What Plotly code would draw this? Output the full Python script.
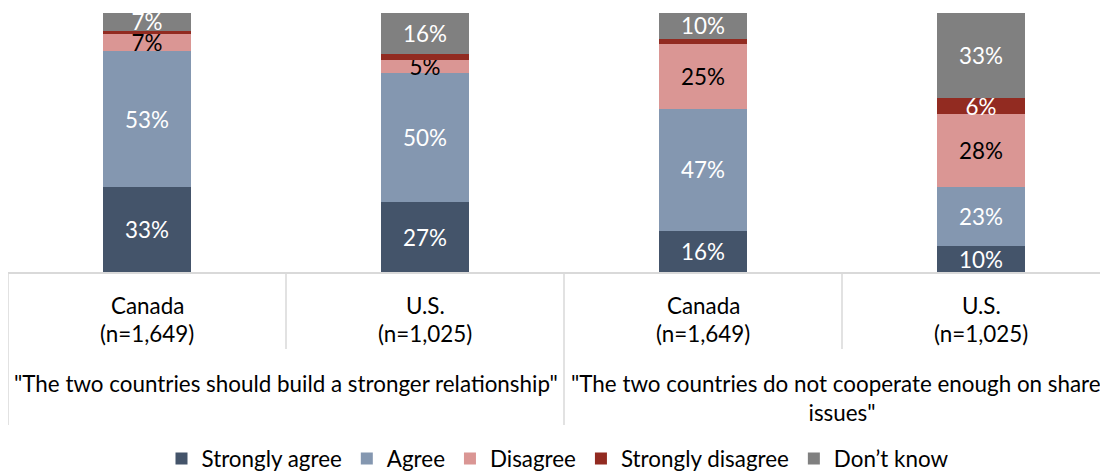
import plotly.graph_objects as go

# ---- data ----
countries = ["Canada", "U.S.", "Canada", "U.S."]
samples = ["(n=1,649)", "(n=1,025)", "(n=1,649)", "(n=1,025)"]
statements = ['"The two countries should build a stronger relationship"',
              '"The two countries do not cooperate enough on shared<br>issues"']
series_names = ["Strongly agree", "Agree", "Disagree", "Strongly disagree", "Don\u2019t know"]
strongly_agree = [33, 27, 16, 10]
agree = [53, 50, 47, 23]
disagree = [7, 5, 25, 28]
strongly_disagree = [1, 2, 2, 6]
dont_know = [7, 16, 10, 33]

colors = ["#44546A", "#8497B0", "#DA9694", "#922B21", "#808080"]
text_colors = ["white", "white", "black", "white", "white"]
FONT = "Lato"
FS = 22.4

# the page body has an 8px margin, so the figure is placed at (8, 8) on the page
PAGE_OFF = 8
W, H = 1100, 465
L, R, T, B = 0, 0, 5, 201
plot_top_page = PAGE_OFF + T
plot_bot_page = PAGE_OFF + H - B
plot_h = plot_bot_page - plot_top_page
slot_px = 278.0

x = list(range(len(countries)))
fig = go.Figure()
for name, vals, c, tc in zip(series_names,
                             [strongly_agree, agree, disagree, strongly_disagree, dont_know],
                             colors, text_colors):
    fig.add_trace(go.Bar(
        x=x, y=vals, name=name, marker=dict(color=c, line=dict(width=0)),
        text=[f"{v}%" if v >= 5 else "" for v in vals],
        textposition="inside", insidetextanchor="middle", textangle=0,
        textfont=dict(color=tc, size=FS, family=FONT),
        hoverinfo="skip",
    ))


def py2paper(py):
    return (plot_bot_page - py) / plot_h


annotations = []
for i, (c, s) in enumerate(zip(countries, samples)):
    annotations.append(dict(x=i, y=py2paper(305), xref="x", yref="paper", text=c,
                            showarrow=False, yanchor="middle",
                            font=dict(size=FS, family=FONT, color="black")))
    annotations.append(dict(x=i, y=py2paper(333), xref="x", yref="paper", text=s,
                            showarrow=False, yanchor="middle",
                            font=dict(size=FS, family=FONT, color="black")))
for g, st in enumerate(statements):
    annotations.append(dict(x=2 * g + 0.5, y=py2paper(368), xref="x", yref="paper", text=st,
                            showarrow=False, yanchor="top",
                            font=dict(size=FS, family=FONT, color="black")))

shapes = []
sep_color = "#D9D9D9"
for k in range(len(countries) + 1):
    xpos = k - 0.5
    outer = (k % 2 == 0)
    shapes.append(dict(type="line", xref="x", yref="paper", x0=xpos, x1=xpos,
                       y0=0, y1=py2paper(425 if outer else 349),
                       line=dict(color=sep_color, width=1.5)))

fig.update_layout(
    width=W, height=H,
    margin=dict(l=L, r=R, t=T, b=B, pad=0, autoexpand=False),
    paper_bgcolor="white", plot_bgcolor="white",
    barmode="stack", barnorm="percent", bargap=0.687,
    uniformtext=dict(minsize=FS, mode="show"),
    showlegend=True,
    legend=dict(orientation="h", x=0.5, xanchor="center", y=py2paper(459), yanchor="middle",
                traceorder="normal", font=dict(size=FS, family=FONT, color="black"),
                itemclick=False, itemdoubleclick=False),
    xaxis=dict(range=[-0.5, -0.5 + (W - L - R) / slot_px], showticklabels=False,
               showline=True, linecolor=sep_color, linewidth=2, showgrid=False,
               zeroline=False, ticks="", fixedrange=True),
    yaxis=dict(range=[0, 100], visible=False, showgrid=False, zeroline=False, fixedrange=True),
    annotations=annotations, shapes=shapes,
    font=dict(family=FONT, size=FS, color="black"),
)

fig.write_html("out.html")
